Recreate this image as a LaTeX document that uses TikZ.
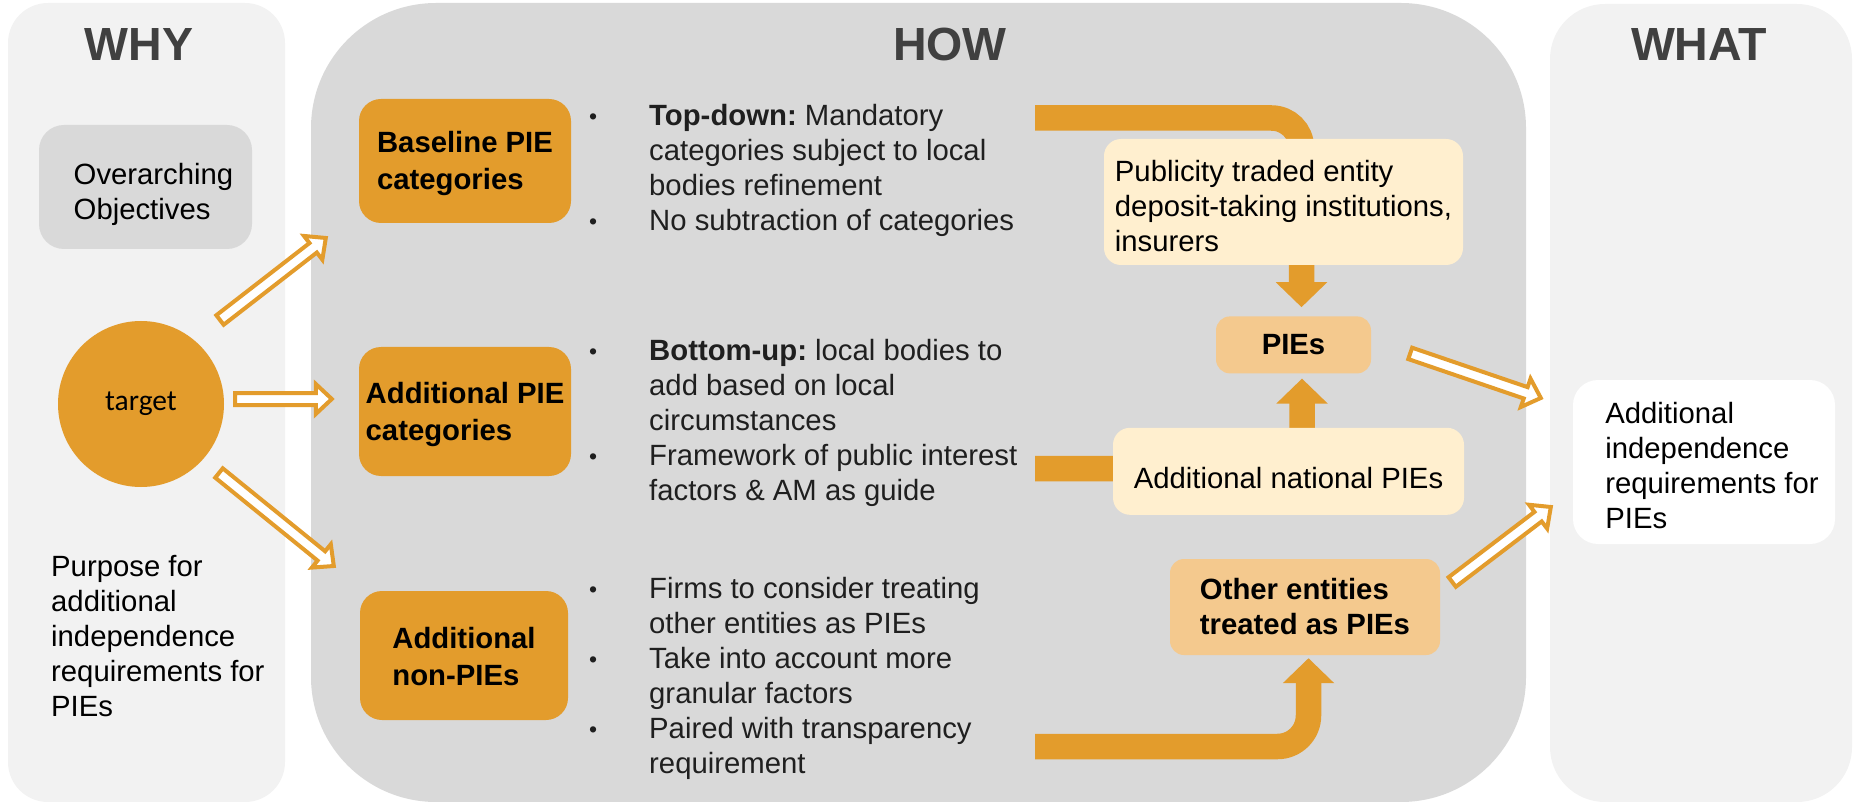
\documentclass[tikz,border=0pt]{standalone}
\usepackage{fontspec}
\setmainfont{Liberation Sans}
\newfontfamily\targetfont{Carlito}
\usetikzlibrary{positioning,calc,arrows.meta}
\frenchspacing

\definecolor{piegold}{HTML}{E39C2C}
\definecolor{pielight}{HTML}{F4C98E}
\definecolor{piecream}{HTML}{FFEFCF}
\definecolor{howgray}{HTML}{D9D9D9}
\definecolor{sidegray}{HTML}{F2F2F2}
\definecolor{headgray}{HTML}{404040}
\definecolor{listblack}{HTML}{1F1F1F}

\newcommand{\bodyfont}{\fontsize{29.3}{35}\selectfont}
\newcommand{\lbul}{\makebox[60pt][l]{\raisebox{1pt}{\fontsize{23}{23}\selectfont\textbullet}}}
\newcommand{\lind}{\hspace*{60pt}}
% first-line strut: pushes a centred text block down
\newcommand{\drop}[1]{\rule{0pt}{#1}}
\newcommand{\pad}{\hspace*{16pt}}
\newcommand{\hollowarrow}[2]{%
  \coordinate (hb) at ($(#2)!16pt!(#1)$);
  \draw[hollow] ($(#1)!6pt!90:(#2)$) -- ($(hb)!6pt!-90:(#1)$)
    -- ($(hb)!15pt!-90:(#1)$) -- (#2) -- ($(hb)!15pt!90:(#1)$)
    -- ($(hb)!6pt!90:(#1)$) -- ($(#1)!6pt!-90:(#2)$) -- cycle;}

\pgfdeclarelayer{panels}
\pgfdeclarelayer{bands}
\pgfsetlayers{panels,bands,main}

\begin{document}
\begin{tikzpicture}[x=1pt,y=-1pt,
    title/.style={font=\fontsize{46.5}{56}\selectfont\bfseries,text=headgray,anchor=base,inner sep=0pt},
    box/.style={rectangle,align=left,inner sep=0pt,font=\bodyfont},
    goldbox/.style={box,fill=piegold,rounded corners=22pt,minimum width=212pt,font=\fontsize{29.3}{37}\selectfont\bfseries},
    creambox/.style={box,fill=piecream,rounded corners=17pt},
    lightbox/.style={box,fill=pielight,rounded corners=14pt,font=\bodyfont\bfseries},
    plain/.style={anchor=north west,align=left,inner sep=0pt,font=\bodyfont},
    listtext/.style={plain,text=listblack},
    band/.style={draw=piegold,line width=25.5pt,-{Triangle[width=50pt,length=25pt]}},
    hollow/.style={draw=piegold,fill=white,line width=4pt,line join=miter}]
	\useasboundingbox (0,0) rectangle (1853,802);
	
	\begin{pgfonlayer}{panels}
	\fill[sidegray,rounded corners=40pt] (8,3) rectangle (285,802);
	\fill[howgray,rounded corners=125pt] (311,3) rectangle (1526,802);
	\fill[sidegray,rounded corners=55pt] (1550,4) rectangle (1852,802);
	\end{pgfonlayer}
	
	\node[title] (why)  at (139,61)  {WHY};
	\node[title] (how)  at (950,61)  {HOW};
	\node[title] (what) at (1699,61) {WHAT};
	
	% why column
	\node[box,fill=howgray,rounded corners=25pt,minimum width=213pt,minimum height=124pt] (objectives) at (145.5,187) {\drop{37pt}\pad Overarching\\\pad Objectives};
	\node[circle,fill=piegold,minimum size=166pt,inner sep=0pt,font=\targetfont\fontsize{29.5}{35}\selectfont] (target) at (141,404) {target};
	\node[plain] (purpose) at (51,555) {Purpose for\\additional\\independence\\requirements for\\PIEs};
	
	% how column
	\node[goldbox,minimum height=124pt] (baseline) at (465,161)   {\drop{27pt}Baseline PIE\\categories};
	\node[goldbox,minimum height=129pt] (addcat)   at (465,411.5) {\drop{27pt}Additional PIE\\categories};
	\node[goldbox,minimum height=129pt,minimum width=208pt] (nonpie) at (464,655.5) {\drop{24pt}Additional\\non-PIEs};
	
	\node[listtext] (topdown)  at (589,104) {\lbul\textbf{Top-down:} Mandatory\\\lind categories subject to local\\\lind bodies refinement\\\lbul No subtraction of categories};
	\node[listtext] (bottomup) at (589,339) {\lbul\textbf{Bottom-up:} local bodies to\\\lind add based on local\\\lind circumstances\\\lbul Framework of public interest\\\lind factors \& AM as guide};
	\node[listtext] (firms)    at (589,577) {\lbul Firms to consider treating\\\lind other entities as PIEs\\\lbul Take into account more\\\lind granular factors\\\lbul Paired with transparency\\\lind requirement};
	
	\node[creambox,minimum width=359pt,minimum height=126pt] (listed) at (1283.5,202) {\drop{29pt}Publicity traded entity\\deposit-taking institutions,\\insurers};
	\node[lightbox,minimum width=155pt,minimum height=57pt] (pies) [below=51pt of listed,xshift=10pt] {PIEs};
	\node[creambox,minimum width=351pt,minimum height=87pt] (national) [below=54pt of pies,xshift=-5pt] {\drop{34pt}Additional national PIEs};
	\node[lightbox,minimum width=270pt,minimum height=96pt] (other) at (1305,607) {Other entities\\treated as PIEs};
	
	% what column
	\node[box,fill=white,rounded corners=25pt,minimum width=262pt,minimum height=164pt] (result) at (1704,462) {\drop{29pt}\pad Additional\\\pad independence\\\pad requirements for\\\pad PIEs};
	
	% thick connectors behind the boxes
	\coordinate (topin) at (1035,118);
	\coordinate (midin) at (1035,468.5);
	\coordinate (botin) at (1035,746.5);
	\begin{pgfonlayer}{bands}
	\draw[band] (topin) [rounded corners=30pt] -| ([xshift=8pt,yshift=9pt]pies.north);
	\draw[band] (midin) [rounded corners=30pt] -| ([xshift=8.5pt,yshift=-5pt]pies.south);
	\draw[band] (botin) [rounded corners=31pt] -| ([xshift=3.5pt,yshift=-3pt]other.south);
	\end{pgfonlayer}
	
	% hollow arrows
	\coordinate (a1s) at ([shift={(79,-84)}]target.center);
	\coordinate (a1e) at ([shift={(-33,77)}]baseline.west);
	\coordinate (a2s) at ([shift={(11,-5)}]target.east);
	\coordinate (a2e) at ([shift={(-27,-12.5)}]addcat.west);
	\coordinate (a3s) at ([shift={(78,69)}]target.center);
	\coordinate (a3e) at ([shift={(-26,-89.5)}]nonpie.west);
	\coordinate (a4s) at ([shift={(39,8.5)}]pies.east);
	\coordinate (a4e) at ([shift={(-32,-64)}]result.west);
	\coordinate (a5s) at ([shift={(12,-25)}]other.east);
	\coordinate (a5e) at ([shift={(-22,45)}]result.west);
	\hollowarrow{a1s}{a1e}
	\hollowarrow{a2s}{a2e}
	\hollowarrow{a3s}{a3e}
	\hollowarrow{a4s}{a4e}
	\hollowarrow{a5s}{a5e}
\end{tikzpicture}
\end{document}
